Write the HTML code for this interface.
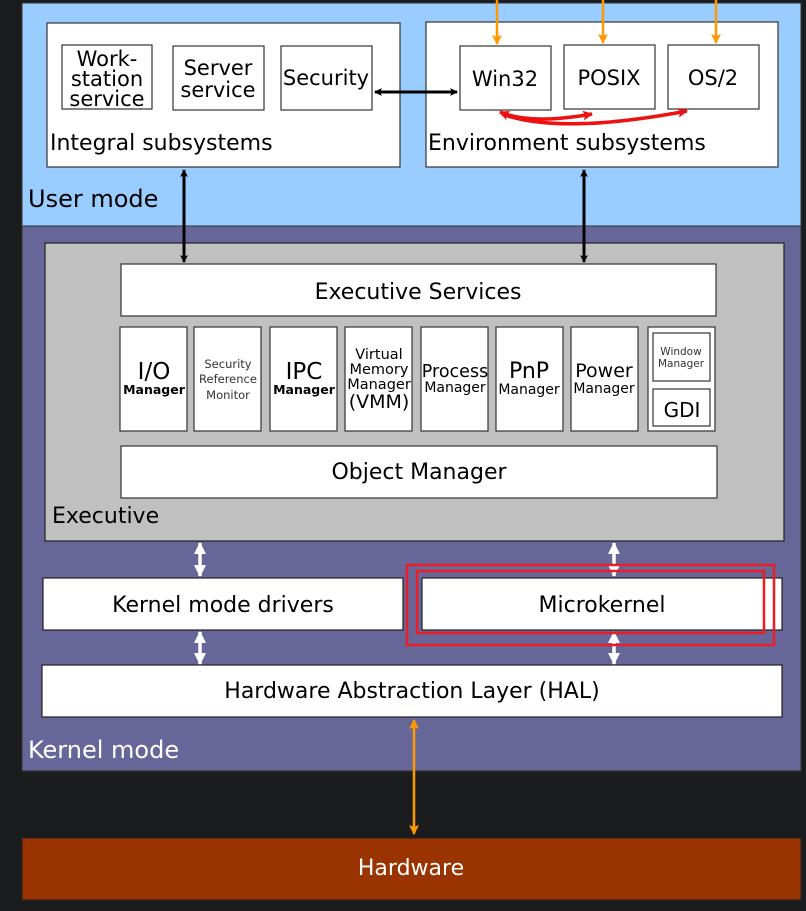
<!DOCTYPE html>
<html><head><meta charset="utf-8"><style>
html,body{margin:0;padding:0;background:#1b1c1e;}
svg{display:block;font-family:"DejaVu Sans","Liberation Sans",sans-serif;}
</style></head><body>
<svg width="806" height="911" viewBox="0 0 806 911" xmlns="http://www.w3.org/2000/svg">
<defs>
<marker id="ab" markerWidth="8" markerHeight="8" refX="7" refY="4" orient="auto-start-reverse" markerUnits="userSpaceOnUse" viewBox="0 0 8 8"><path d="M0,0 L8,4 L0,8 L2,4Z" fill="#000"/></marker>
<marker id="ao" markerWidth="10" markerHeight="10" refX="9" refY="5" orient="auto-start-reverse" markerUnits="userSpaceOnUse" viewBox="0 0 10 10"><path d="M0,0 L10,5 L0,10 L2,5Z" fill="#ff9900"/></marker>
<marker id="ar" markerWidth="10" markerHeight="10" refX="9" refY="5" orient="auto-start-reverse" markerUnits="userSpaceOnUse" viewBox="0 0 10 10"><path d="M0,0 L10,5 L0,10 L2,5Z" fill="#ee1111"/></marker>
<marker id="aw" markerWidth="12" markerHeight="12" refX="11" refY="6" orient="auto-start-reverse" markerUnits="userSpaceOnUse" viewBox="0 0 12 12"><path d="M0,0 L12,6 L0,12Z" fill="#fff"/></marker>
</defs>
<rect width="806" height="911" fill="#1b1c1e"/>
<rect x="22" y="3" width="779" height="223" fill="#99ccff" stroke="#333" stroke-width="1"/>
<rect x="22" y="226" width="779" height="545" fill="#666699" stroke="#333" stroke-width="1"/>
<rect x="22" y="838" width="779" height="62" fill="#993300" stroke="#222" stroke-width="1"/>
<g fill="#fff" stroke="#333" stroke-width="1.2">
<rect x="47" y="23" width="353" height="144"/>
<rect x="426" y="22" width="352" height="145"/>
<rect x="62" y="45" width="90" height="64"/>
<rect x="173" y="46" width="91" height="64"/>
<rect x="281" y="46" width="91" height="64"/>
<rect x="460" y="46" width="91" height="64"/>
<rect x="564" y="45" width="91" height="64"/>
<rect x="668" y="45" width="91" height="64"/>
</g>
<g font-size="21" fill="#000" text-anchor="middle">
<text x="107" y="66">Work-</text><text x="107" y="86">station</text><text x="107" y="106">service</text>
<text x="218" y="75">Server</text><text x="218" y="97">service</text>
<text x="326" y="85">Security</text>
<text x="505" y="86">Win32</text>
<text x="609" y="85">POSIX</text>
<text x="713" y="85">OS/2</text>
</g>
<g font-size="22" fill="#000">
<text x="50" y="150">Integral subsystems</text>
<text x="428" y="150">Environment subsystems</text>
<text x="28" y="207" font-size="24">User mode</text>
</g>
<line x1="375" y1="92" x2="457" y2="92" stroke="#000" stroke-width="3" marker-start="url(#ab)" marker-end="url(#ab)"/>
<g stroke="#ff9900" stroke-width="2.5" fill="none">
<line x1="497" y1="0" x2="497" y2="44" marker-end="url(#ao)"/>
<line x1="603" y1="0" x2="603" y2="43" marker-end="url(#ao)"/>
<line x1="716" y1="0" x2="716" y2="43" marker-end="url(#ao)"/>
<line x1="414" y1="720" x2="414" y2="834" marker-start="url(#ao)" marker-end="url(#ao)"/>
</g>
<g stroke="#ee1111" stroke-width="3.5" fill="none">
<path d="M500,112 Q530,125 592,114" marker-start="url(#ar)" marker-end="url(#ar)"/>
<path d="M502,114 Q560,135 687,111" marker-end="url(#ar)"/>
</g>
<rect x="45" y="243" width="739" height="298" fill="#c0c0c0" stroke="#222" stroke-width="1.2"/>
<g stroke="#000" stroke-width="3">
<line x1="184" y1="170" x2="184" y2="262" marker-start="url(#ab)" marker-end="url(#ab)"/>
<line x1="584" y1="170" x2="584" y2="262" marker-start="url(#ab)" marker-end="url(#ab)"/>
</g>
<g fill="#fff" stroke="#333" stroke-width="1.2">
<rect x="121" y="264" width="595" height="52"/>
<rect x="120" y="327" width="67" height="104"/>
<rect x="194" y="327" width="67" height="104"/>
<rect x="270" y="327" width="67" height="104"/>
<rect x="345" y="327" width="67" height="104"/>
<rect x="421" y="327" width="67" height="104"/>
<rect x="496" y="327" width="67" height="104"/>
<rect x="571" y="327" width="67" height="104"/>
<rect x="648" y="327" width="67" height="104"/>
<rect x="653" y="333" width="57" height="48"/>
<rect x="653" y="389" width="57" height="37"/>
<rect x="121" y="446" width="596" height="52"/>
</g>
<g fill="#000" text-anchor="middle">
<text x="418" y="299" font-size="22">Executive Services</text>
<text x="154" y="379" font-size="23">I/O</text><text x="154" y="394" font-size="12.5" font-weight="bold">Manager</text>
<g font-size="11.5" fill="#333"><text x="228" y="368">Security</text><text x="228" y="383">Reference</text><text x="228" y="399">Monitor</text></g>
<text x="304" y="379" font-size="23">IPC</text><text x="304" y="394" font-size="12.5" font-weight="bold">Manager</text>
<text x="379" y="359" font-size="14.5">Virtual</text><text x="379" y="374" font-size="14.5">Memory</text><text x="379" y="389" font-size="14.5">Manager</text><text x="379" y="408" font-size="19">(VMM)</text>
<text x="455" y="377" font-size="17.5">Process</text><text x="455" y="392" font-size="14">Manager</text>
<text x="529" y="378" font-size="22">PnP</text><text x="529" y="394" font-size="14">Manager</text>
<text x="604" y="377" font-size="19">Power</text><text x="604" y="393" font-size="14">Manager</text>
<g font-size="10.5" fill="#333"><text x="681" y="355">Window</text><text x="681" y="367">Manager</text></g>
<text x="682" y="417" font-size="20">GDI</text>
<text x="419" y="479" font-size="22">Object Manager</text>
</g>
<text x="52" y="523" font-size="22" fill="#000">Executive</text>
<g fill="#fff" stroke="#222" stroke-width="1.2">
<rect x="43" y="578" width="360" height="52"/>
<rect x="422" y="578" width="360" height="52"/>
<rect x="42" y="665" width="740" height="52"/>
</g>
<g stroke="#fff" stroke-width="3.5">
<line x1="200" y1="543" x2="200" y2="576" marker-start="url(#aw)" marker-end="url(#aw)"/>
<line x1="200" y1="632" x2="200" y2="664" marker-start="url(#aw)" marker-end="url(#aw)"/>
<line x1="614" y1="543" x2="614" y2="576" marker-start="url(#aw)" marker-end="url(#aw)"/>
<line x1="614" y1="632" x2="614" y2="664" marker-start="url(#aw)" marker-end="url(#aw)"/>
</g>
<g fill="none" stroke="#ee1c24" stroke-width="2.5">
<rect x="407" y="565" width="367" height="80"/>
<rect x="417" y="571" width="347" height="62"/>
</g>
<g font-size="22" fill="#000" text-anchor="middle">
<text x="223" y="612">Kernel mode drivers</text>
<text x="602" y="612">Microkernel</text>
<text x="412" y="698">Hardware Abstraction Layer (HAL)</text>
</g>
<text x="28" y="758" font-size="24" fill="#fff">Kernel mode</text>
<text x="411" y="875" font-size="22" fill="#fff" text-anchor="middle">Hardware</text>
</svg>
</body></html>
